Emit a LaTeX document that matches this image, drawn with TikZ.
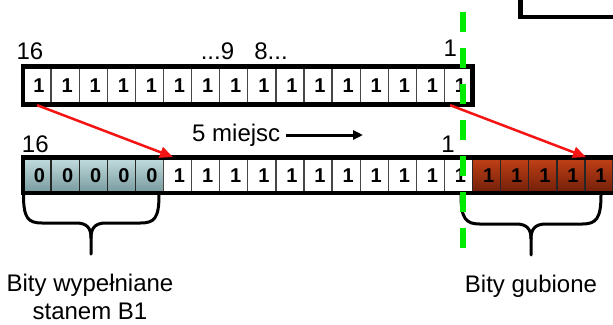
\documentclass[tikz,border=0pt]{standalone}
\usepackage{fontspec}
\setmainfont{Liberation Sans}
\usetikzlibrary{arrows.meta}
\definecolor{bluetop}{RGB}{196,222,224}
\definecolor{bluebot}{RGB}{118,152,156}
\definecolor{browntop}{RGB}{196,66,22}
\definecolor{brownbot}{RGB}{112,30,10}
\definecolor{gline}{RGB}{0,235,0}
\definecolor{redarrow}{RGB}{245,20,20}
\definecolor{cellline}{RGB}{70,70,70}
\begin{document}
\begin{tikzpicture}[x=1pt,y=-1pt,
 cell/.style={rectangle, minimum width=28.1pt, minimum height=38pt, inner sep=0pt, draw=cellline, line width=1.3pt, font=\fontsize{20}{24}\selectfont\bfseries, fill=white},
 lowcell/.style={cell, minimum height=35.5pt},
 zerocell/.style={lowcell, draw=black!85, top color=bluetop, bottom color=bluebot},
 lostcell/.style={lowcell, draw=black!85, top color=browntop, bottom color=brownbot},
 frame/.style={draw=black, line width=4.5pt},
 lbl/.style={font=\fontsize{24}{29}\selectfont, inner sep=0pt, anchor=base},
 brace/.style={draw=black, line width=3pt, line cap=round},
 redarr/.style={draw=redarrow, line width=2.5pt, -{Triangle[length=13pt,width=11pt]}},
 shiftarr/.style={draw=black, line width=3pt, -{Triangle[length=10pt,width=9pt]}},
 divider/.style={draw=gline, line width=6pt, dash pattern=on 20pt off 16pt}
]
\useasboundingbox (0,0) rectangle (613,324);
\clip (0,0) rectangle (613,324);
\fill[white] (0,0) rectangle (613,324);

% partial box at top right
\draw[frame, fill=white] (520.5,-20) rectangle (700,17);

% top register
\foreach \i in {0,...,15}
  \node[cell] (t\i) at ({23+28.1*(\i+0.5)},85.5) {\hspace*{4pt}1};
\draw[frame] (23,66.5) rectangle (472.5,104.5);

% bottom register
\foreach \i in {0,...,4}
  \node[zerocell] (b\i) at ({23+28.1*(\i+0.5)},175.25) {\hspace*{5pt}0};
\foreach \i in {5,...,15}
  \node[lowcell] (b\i) at ({23+28.1*(\i+0.5)},175.25) {\hspace*{4pt}1};
\foreach \i in {16,...,20}
  \node[lostcell] (b\i) at ({23+28.1*(\i+0.5)},175.25) {\hspace*{4pt}1};
\draw[frame] (23,157.5) rectangle (640,193);

% labels
\node[lbl] (l16a) at (30,59) {16};
\node[lbl] (l9) at (217.5,59) {...9};
\node[lbl] (l8) at (271,59) {8...};
\node[lbl] (l1a) at (450.4,56) {1};
\node[lbl] (l16b) at (35.3,152) {16};
\node[lbl] (l1b) at (448,152) {1};
\node[lbl, anchor=base west] (shiftlbl) at (192,141) {5 miejsc};
\coordinate (shiftstart) at (286,135);
\coordinate (shiftend) at (363,135);
\draw[shiftarr] (shiftstart) -- (shiftend);

% braces
\draw[brace] (23.5,195) .. controls (23.5,218) and (28,223) .. (42,223) -- (76,223)
  .. controls (87,223) and (91,228) .. (91,238) -- (91,254);
\draw[brace] (159,195) .. controls (159,218) and (154.5,223) .. (140.5,223) -- (106,223)
  .. controls (95,223) and (91,228) .. (91,238);
\draw[brace] (461,195) .. controls (461,218) and (465.5,224) .. (479.5,224) -- (516,224)
  .. controls (527,224) and (531,229) .. (531,239) -- (531,255);
\draw[brace] (601,195) .. controls (601,218) and (596.5,224) .. (582.5,224) -- (546,224)
  .. controls (535,224) and (531,229) .. (531,239);

\node[lbl] (fill1) at (90,291.5) {Bity wypełniane};
\node[lbl] (fill2) at (90,319.5) {stanem B1};
\node[lbl] (lost) at (531,292) {Bity gubione};

% red arrows
\coordinate (arrA) at (173,157);
\coordinate (arrB) at (586,157);
\draw[redarr] (t0.south) -- (arrA);
\draw[redarr] ([xshift=-8.5pt]t15.south) -- (arrB);

% green dashed divider
\coordinate (gtop) at (462.5,12);
\coordinate (gbot) at (462.5,250);
\draw[divider] (gtop) -- (gbot);
\end{tikzpicture}
\end{document}
